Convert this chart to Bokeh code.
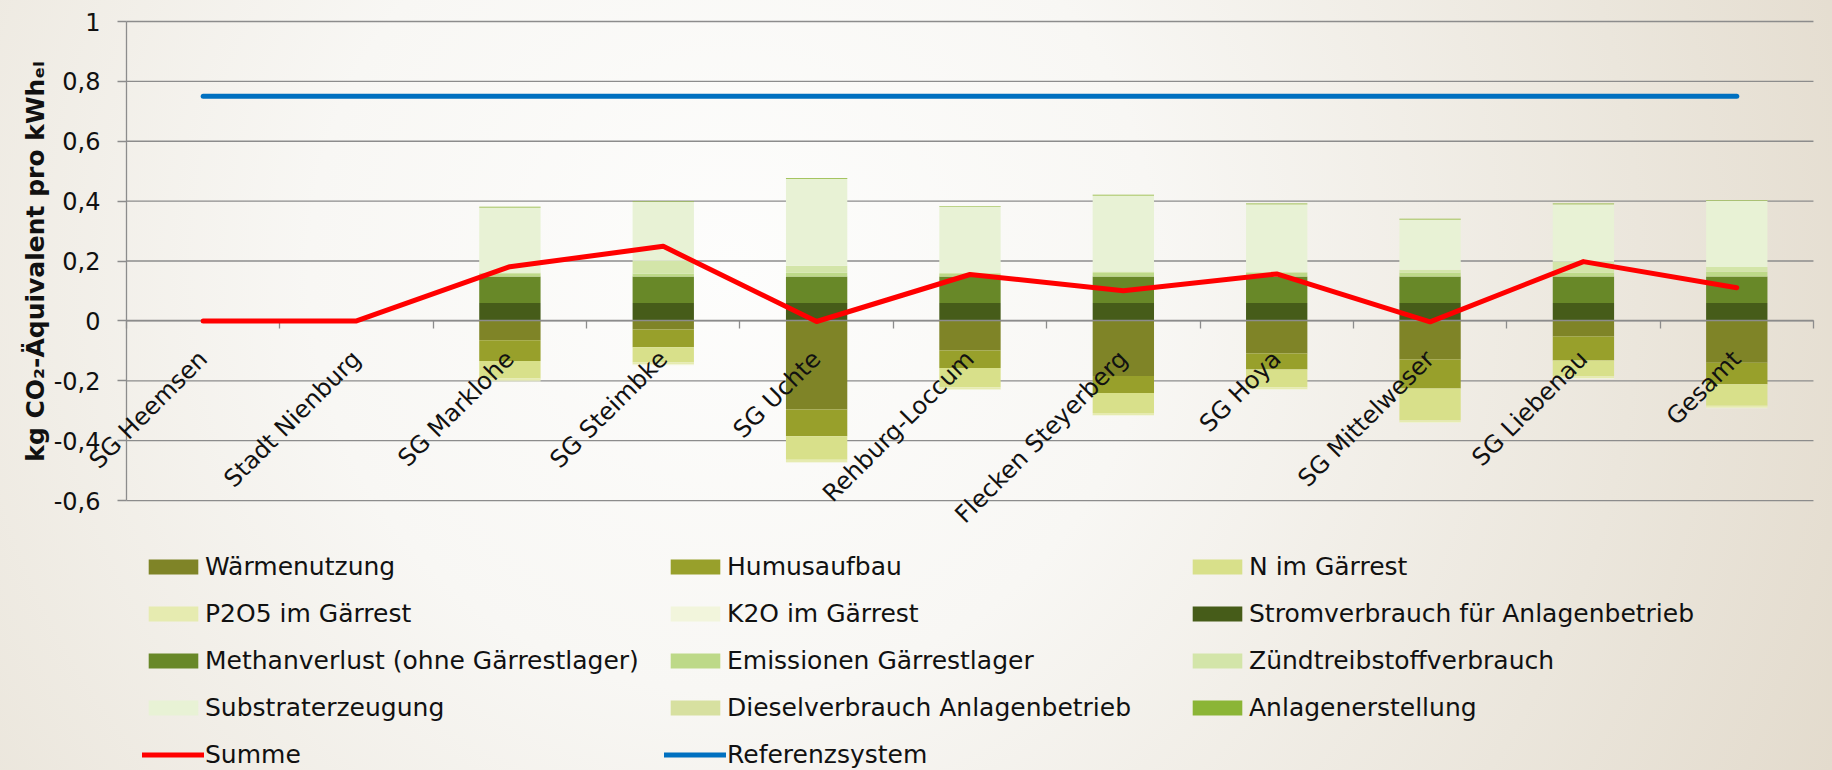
import math
from bokeh.plotting import figure
from bokeh.models import (Range1d, LinearAxis, FixedTicker, Legend, LegendItem,
                          ColumnDataSource, LabelSet, Label)
from bokeh.core.properties import value
from bokeh.embed import file_html
from bokeh.resources import INLINE

categories = ["SG Heemsen", "Stadt Nienburg", "SG Marklohe", "SG Steimbke", "SG Uchte",
              "Rehburg-Loccum", "Flecken Steyerberg", "SG Hoya", "SG Mittelweser",
              "SG Liebenau", "Gesamt"]

# negative contributions (credits)
waermenutzung  = [0, 0, -0.065, -0.029, -0.296, -0.099, -0.184, -0.109, -0.129, -0.052, -0.140]
humusaufbau    = [0, 0, -0.069, -0.059, -0.089, -0.058, -0.057, -0.053, -0.097, -0.080, -0.072]
n_gaerrest     = [0, 0, -0.058, -0.051, -0.079, -0.065, -0.067, -0.060, -0.107, -0.053, -0.071]
p2o5_gaerrest  = [0, 0, -0.008, -0.007, -0.008, -0.007, -0.007, -0.006, -0.006, -0.006, -0.007]
k2o_gaerrest   = [0, 0, -0.002, -0.002, -0.003, -0.002, -0.002, -0.002, -0.002, -0.002, -0.002]
# positive contributions
stromverbrauch = [0, 0, 0.060, 0.060, 0.060, 0.060, 0.060, 0.060, 0.060, 0.060, 0.060]
methanverlust  = [0, 0, 0.088, 0.088, 0.088, 0.088, 0.088, 0.088, 0.088, 0.088, 0.088]
emissionen     = [0, 0, 0.011, 0.010, 0.014, 0.009, 0.012, 0.013, 0.014, 0.013, 0.016]
zuendtreib     = [0, 0, 0.003, 0.043, 0.022, 0.003, 0.005, 0.002, 0.009, 0.037, 0.016]
substrat       = [0, 0, 0.216, 0.196, 0.290, 0.221, 0.253, 0.226, 0.167, 0.191, 0.221]
diesel         = [0, 0, 0.001, 0.001, 0.001, 0.001, 0.001, 0.001, 0.001, 0.001, 0.001]
anlagen        = [0, 0, 0.002, 0.002, 0.002, 0.002, 0.002, 0.002, 0.002, 0.002, 0.002]

summe          = [0, 0, 0.181, 0.249, -0.002, 0.155, 0.101, 0.157, -0.003, 0.198, 0.111]
referenz       = [0.75, 0.75, 0.75, 0.75, 0.75, 0.75, 0.75, 0.75, 0.75, 0.75, 0.75]

y_ticks = [-0.6, -0.4, -0.2, 0, 0.2, 0.4, 0.6, 0.8, 1]
y_tick_labels = ["-0,6", "-0,4", "-0,2", "0", "0,2", "0,4", "0,6", "0,8", "1"]

neg_names = ["Wärmenutzung", "Humusaufbau", "N im Gärrest", "P2O5 im Gärrest", "K2O im Gärrest"]
pos_names = ["Stromverbrauch für Anlagenbetrieb", "Methanverlust (ohne Gärrestlager)",
             "Emissionen Gärrestlager", "Zündtreibstoffverbrauch", "Substraterzeugung",
             "Dieselverbrauch Anlagenbetrieb", "Anlagenerstellung"]
legend_order = ["Wärmenutzung", "Humusaufbau", "N im Gärrest", "P2O5 im Gärrest",
                "K2O im Gärrest", "Stromverbrauch für Anlagenbetrieb",
                "Methanverlust (ohne Gärrestlager)", "Emissionen Gärrestlager",
                "Zündtreibstoffverbrauch", "Substraterzeugung",
                "Dieselverbrauch Anlagenbetrieb", "Anlagenerstellung", "Summe", "Referenzsystem"]

neg_colors = ["#7f8427", "#98a02b", "#d8e08a", "#e6ebb0", "#f2f5dc"]
pos_colors = ["#465c19", "#688828", "#bdd988", "#d3e5a9", "#e8f2d5", "#d7e0a0", "#8bb536"]

y_title = "kg CO₂-Äquivalent pro kWhₑₗ"

FONT = "DejaVu Sans"
GRID = "#8c8c8c"
TXT = "#111111"

# layout (pixels)
W, H = 1832, 770
TOP, RIGHT = 12, 12        # frame margins (frame covers the rest of the canvas)
AXIS_X, ONE_Y = 126, 21    # screen position of x=0 and of y=1
PX_Y = 299.4               # pixels per unit on y
PX_X = 153.36              # pixels per category

xs = [i + 0.5 for i in range(len(categories))]
data = {"x": xs, "cat": categories}
for name, vals in zip(neg_names, [waermenutzung, humusaufbau, n_gaerrest, p2o5_gaerrest, k2o_gaerrest]):
    data[name] = vals
for name, vals in zip(pos_names, [stromverbrauch, methanverlust, emissionen, zuendtreib,
                                  substrat, diesel, anlagen]):
    data[name] = vals
data["Summe"] = summe
data["Referenzsystem"] = referenz
source = ColumnDataSource(data)
ysrc = ColumnDataSource({"y": y_ticks, "label": y_tick_labels})

x_start = -AXIS_X / PX_X
x_end = (W - RIGHT - AXIS_X) / PX_X
y_top = y_ticks[-1] + (ONE_Y - TOP) / PX_Y
y_bottom = y_ticks[-1] - (H - ONE_Y) / PX_Y

p = figure(width=W, height=H, title=None,
           x_range=Range1d(x_start, x_end), y_range=Range1d(y_bottom, y_top),
           x_axis_type=None, y_axis_type=None,
           output_backend="svg", toolbar_location=None,
           min_border_left=0, min_border_right=RIGHT, min_border_top=TOP, min_border_bottom=0)
p.border_fill_color = None
p.background_fill_color = None
p.outline_line_color = None
p.styles = {"background": "radial-gradient(circle at 40% 35%, #fdfdfc 0%, #f8f7f4 35%, #ebe6dc 75%, #e3dbcd 100%)"}

# horizontal grid lines and value axis line
p.segment(x0=0, y0="y", x1=len(categories), y1="y", source=ysrc,
          line_color=GRID, line_width=1.3, level="underlay")
p.segment(x0=0, y0=y_ticks[0], x1=0, y1=y_ticks[-1], line_color=GRID, line_width=1.3)

# value axis tick marks (pointing left from x=0)
ytick_axis = LinearAxis(ticker=FixedTicker(ticks=y_ticks), fixed_location=0,
                        major_tick_in=9, major_tick_out=0, major_tick_line_color=GRID,
                        major_tick_line_width=1.3, minor_tick_line_color=None,
                        axis_line_color=None, major_label_text_alpha=0,
                        major_label_text_font_size="0px", major_label_standoff=0)
p.add_layout(ytick_axis, "right")
# value axis labels
p.add_layout(LabelSet(x=0, y="y", text="label", source=ysrc, x_offset=-26,
                      text_align="right", text_baseline="middle",
                      text_font=value(FONT), text_font_size="24px", text_color=TXT))
# value axis title
p.add_layout(Label(x=35, y=H - 261, x_units="screen", y_units="screen", angle=math.pi / 2,
                   text=y_title, text_align="center", text_baseline="middle",
                   text_font=FONT, text_font_style="bold", text_font_size="25px",
                   text_color=TXT))

# bars
neg_r = p.vbar_stack(neg_names, x="x", width=0.4, source=source,
                     fill_color=neg_colors, line_color=None)
pos_r = p.vbar_stack(pos_names, x="x", width=0.4, source=source,
                     fill_color=pos_colors, line_color=None)

# category axis line at zero with ticks between categories (pointing down)
xaxis_ticks = LinearAxis(ticker=FixedTicker(ticks=list(range(len(categories) + 1))),
                         fixed_location=0, major_tick_out=0, major_tick_in=8,
                         major_tick_line_color=GRID, major_tick_line_width=1.3,
                         minor_tick_line_color=None, axis_line_color=GRID,
                         axis_line_width=1.3, major_label_text_alpha=0,
                         major_label_text_font_size="0px", major_label_standoff=0,
                         bounds=(0, len(categories)))
p.add_layout(xaxis_ticks, "above")

# category labels, rotated, hanging below the zero line
p.add_layout(LabelSet(x="x", y=0, text="cat", source=source, angle=math.pi / 4,
                      text_align="right", text_baseline="middle", x_offset=0, y_offset=-34,
                      text_font=value(FONT), text_font_size="24px", text_color=TXT))

# lines
ref_r = p.line("x", "Referenzsystem", source=source, line_color="#0070c0", line_width=5,
               line_cap="round", line_join="round", level="annotation")
sum_r = p.line("x", "Summe", source=source, line_color="#ff0000", line_width=5,
               line_cap="round", line_join="round", level="annotation")

rmap = dict(zip(neg_names, neg_r))
rmap.update(dict(zip(pos_names, pos_r)))
rmap["Summe"] = sum_r
rmap["Referenzsystem"] = ref_r
items = [LegendItem(label=n, renderers=[rmap[n]]) for n in legend_order]

legend = Legend(items=items, location=(142, -3), orientation="horizontal", ncols=3,
                glyph_width=62, glyph_height=19, label_standoff=1, label_width=450,
                label_height=38, spacing=9, padding=0, margin=0,
                label_text_font=FONT, label_text_font_size="25px", label_text_color=TXT,
                border_line_color=None, background_fill_alpha=0)
p.add_layout(legend)

open("out.html", "w").write(file_html(p, INLINE))
